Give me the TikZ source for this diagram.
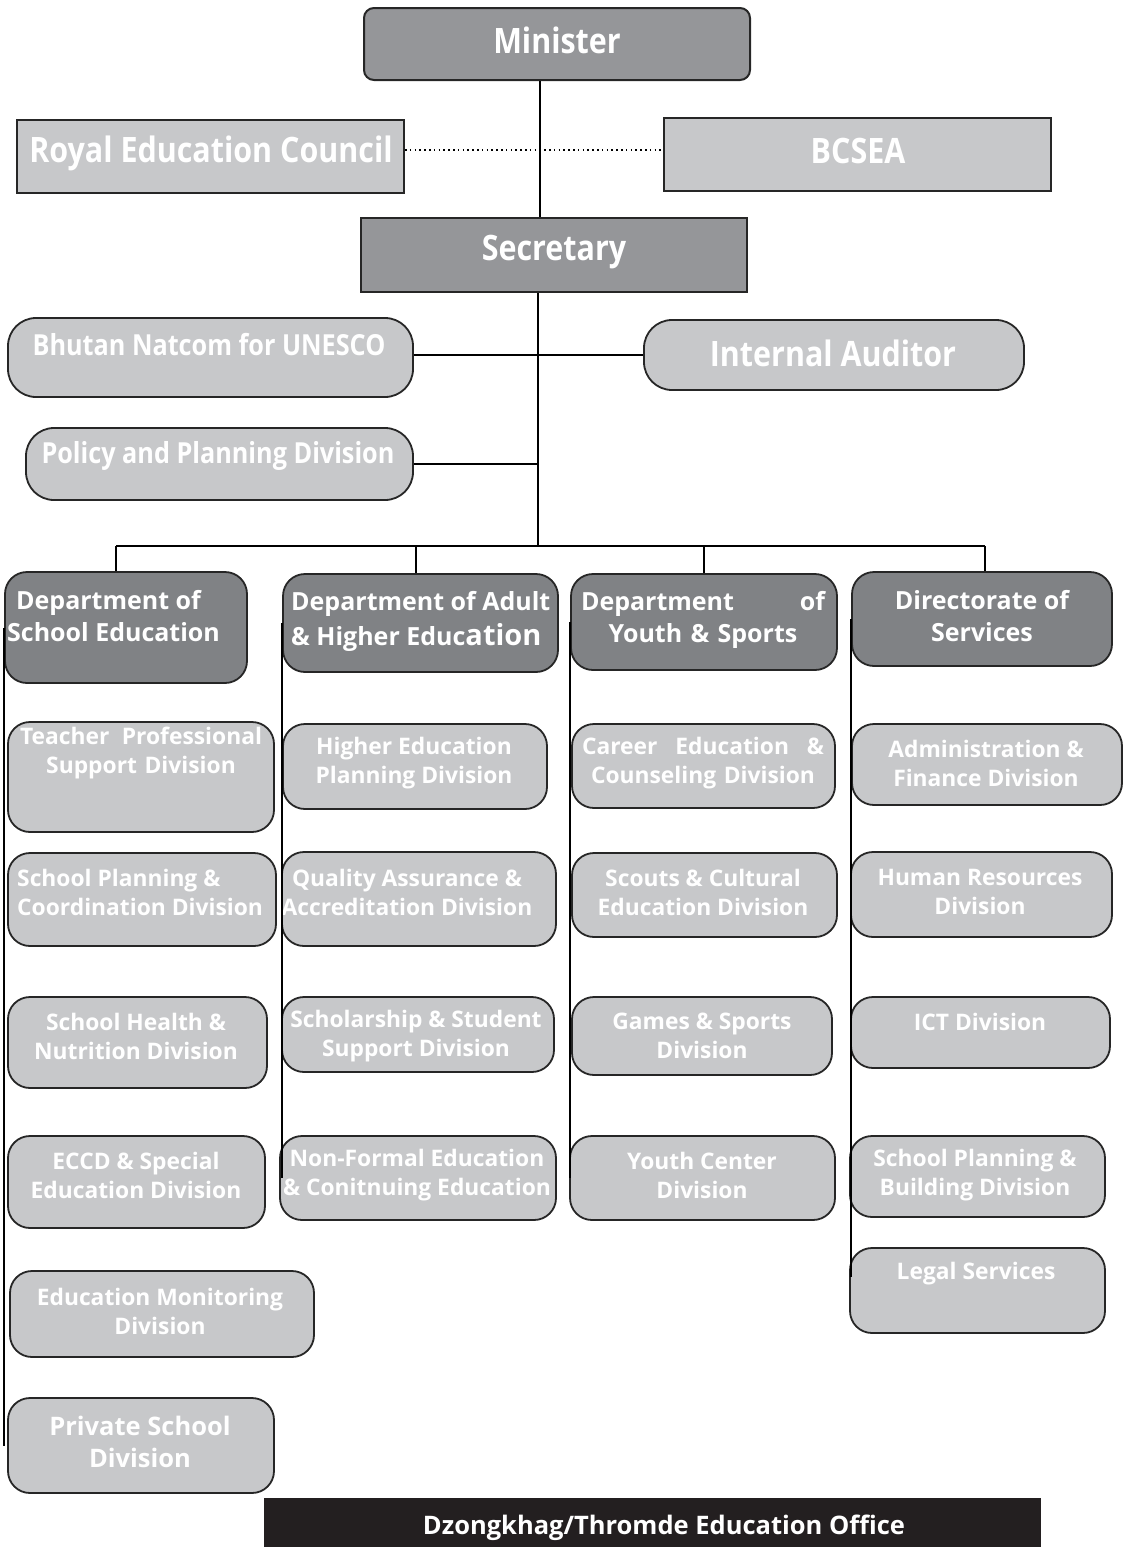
\documentclass[tikz,border=0pt]{standalone}
\usepackage{fontspec}
\setmainfont{Open Sans}
\newfontfamily\narrowfont{Open Sans}[FakeStretch=0.87]
\usetikzlibrary{positioning}
\definecolor{bossgray}{RGB}{149,150,153}
\definecolor{deptgray}{RGB}{128,130,133}
\definecolor{divgray}{RGB}{199,200,202}
\definecolor{officeblack}{RGB}{35,31,32}
\tikzset{
  topbox/.style={draw=black!85, line width=2, fill=bossgray, inner sep=0},
  sidebox/.style={draw=black!85, line width=2, fill=divgray, inner sep=0},
  deptbox/.style={draw=black!85, line width=1.8, fill=deptgray, rounded corners=22, inner sep=0},
  divbox/.style={draw=black!85, line width=1.8, fill=divgray, rounded corners=22, inner sep=0},
  toptext/.style={text=white, inner sep=0, font=\narrowfont\bfseries\fontsize{35}{37}\selectfont},
  midtext/.style={text=white, inner sep=0, font=\narrowfont\bfseries\fontsize{29}{31}\selectfont},
  depttext/.style={text=white, inner sep=0, font=\bfseries\fontsize{25}{32}\selectfont},
  divtext/.style={text=white, inner sep=0, align=center, font=\bfseries\fontsize{22.8}{29}\selectfont},
  wire/.style={draw=black, line width=1.2},
  colline/.style={draw=black, line width=1.8}
}
\begin{document}
\begin{tikzpicture}[x=1pt,y=-1pt]
\useasboundingbox (0,0) rectangle (1124,1547);
% top of the chart
\node[topbox, rounded corners=10, minimum width=386, minimum height=72] (minister) at (557,44) {};
\node[toptext] (ministerl) at (557,40) {Minister};
\node[sidebox, minimum width=387, minimum height=73] (rec) at (210.5,156.5) {};
\node[toptext] (recl) at (211,153) {Royal Education Council};
\node[sidebox, minimum width=387, minimum height=73] (bcsea) at (857.5,154.5) {};
\node[toptext] (bcseal) at (858,151) {BCSEA};
\node[topbox, minimum width=386, minimum height=74] (secretary) at (554,255) {};
\node[toptext] (secretaryl) at (554,252) {Secretary};
% units under the secretary
\node[divbox, rounded corners=28, minimum width=405, minimum height=79] (natcom) at (210.5,357.5) {};
\node[midtext] (natcoml) at (209,345) {Bhutan Natcom for UNESCO};
\node[divbox, rounded corners=28, minimum width=380, minimum height=70] (audit) at (834,355) {};
\node[toptext] (auditl) at (833,353) {Internal Auditor};
\node[divbox, rounded corners=28, minimum width=387, minimum height=72] (ppd) at (219.5,464) {};
\node[midtext] (ppdl) at (218,456) {Policy and Planning Division};
% departments
\node[deptbox, minimum width=242, minimum height=111] (dse) at (126,627.5) {};
\node[depttext, align=left, anchor=west] (dsel) at (7,616) {\hspace*{9pt}Department of\\School Education};
\node[deptbox, minimum width=275, minimum height=98] (dah) at (420.5,623) {};
\node[depttext, align=left, anchor=west] (dahl) at (291,621) {Department of Adult\\[3pt]\& Higher Educ{\fontsize{29}{32}\selectfont ation}};
\node[deptbox, minimum width=266, minimum height=96] (dys) at (704,622) {};
\node[depttext, align=center, text width=244] (dysl) at (703,620) {\makebox[244pt]{Department\hfill of}\\Youth \& Sports};
\node[deptbox, minimum width=260, minimum height=94] (dos) at (982,619) {};
\node[depttext, align=center] (dosl) at (982,616) {Directorate of\\Services};
% school education divisions
\node[divbox, minimum width=266, minimum height=110] (tpsd) at (141,777) {};
\node[divtext, text width=242] (tpsdl) at (141,753) {\makebox[242pt]{Teacher\hfill Professional}\\Support Division};
\node[divbox, minimum width=268, minimum height=93] (spcd) at (142,899.5) {};
\node[divtext, align=left, anchor=west] (spcdl) at (17,892) {School Planning \&\\Coordination Division};
\node[divbox, minimum width=259, minimum height=91] (shnd) at (137.5,1042.5) {};
\node[divtext] (shndl) at (136,1036) {School Health \&\\Nutrition Division};
\node[divbox, minimum width=257, minimum height=92] (eccd) at (136.5,1182) {};
\node[divtext] (eccdl) at (136,1175) {ECCD \& Special\\Education Division};
\node[divbox, minimum width=304, minimum height=86] (emd) at (162,1314) {};
\node[divtext] (emdl) at (160,1311) {Education Monitoring\\Division};
\node[divbox, minimum width=266, minimum height=95] (psd) at (141,1445.5) {};
\node[divtext, font=\bfseries\fontsize{25.5}{32}\selectfont] (psdl) at (140,1442) {Private School\\Division};
% adult and higher education divisions
\node[divbox, minimum width=264, minimum height=85] (hepd) at (415,766.5) {};
\node[divtext] (hepdl) at (414,763) {Higher Education\\Planning Division};
\node[divbox, minimum width=274, minimum height=94] (qaad) at (419,899) {};
\node[divtext] (qaadl) at (407,892) {Quality Assurance \&\\Accreditation Division};
\node[divbox, minimum width=272, minimum height=75] (sssd) at (418,1034.5) {};
\node[divtext] (sssdl) at (416,1036) {Scholarship \& Student\\Support Division};
\node[divbox, minimum width=276, minimum height=84] (nfce) at (418,1178) {};
\node[divtext] (nfcel) at (417,1175) {Non-Formal Education\\\& Conitnuing Education};
% youth and sports divisions
\node[divbox, minimum width=263, minimum height=84] (ced) at (703.5,766) {};
\node[divtext, text width=242] (cedl) at (703,763) {\makebox[242pt]{Career\hfill Education\hfill \&}\\Counseling Division};
\node[divbox, minimum width=265, minimum height=84] (scd) at (704.5,895) {};
\node[divtext] (scdl) at (703,892) {Scouts \& Cultural\\Education Division};
\node[divbox, minimum width=260, minimum height=78] (gsd) at (702,1036) {};
\node[divtext] (gsdl) at (702,1036) {Games \& Sports\\Division};
\node[divbox, minimum width=265, minimum height=84] (ycd) at (702.5,1178) {};
\node[divtext] (ycdl) at (702,1175) {Youth Center\\Division};
% services divisions
\node[divbox, minimum width=270, minimum height=81] (afd) at (987,764.5) {};
\node[divtext] (afdl) at (986,763) {Administration \&\\Finance Division};
\node[divbox, minimum width=261, minimum height=85] (hrd) at (981.5,894.5) {};
\node[divtext] (hrdl) at (980,892) {Human Resources\\Division};
\node[divbox, minimum width=259, minimum height=71] (ict) at (980.5,1032.5) {};
\node[divtext] (ictl) at (980,1022) {ICT Division};
\node[divbox, minimum width=255, minimum height=81] (spbd) at (977.5,1176.5) {};
\node[divtext] (spbdl) at (975,1175) {School Planning \&\\Building Division};
\node[divbox, minimum width=255, minimum height=85] (lgl) at (977.5,1290.5) {};
\node[divtext] (lgll) at (976,1274) {Legal Services};
% office strip
\node[fill=officeblack, minimum width=777, minimum height=52, inner sep=0] (office) at (652.5,1524) {};
\node[text=white, font=\bfseries\fontsize{25.5}{28}\selectfont] (officel) at (664,1528) {Dzongkhag/Thromde Education Office};
% connectors
\coordinate (hub) at (538,546);
\coordinate (b1) at (116,546);
\coordinate (b2) at (416,546);
\coordinate (b3) at (704,546);
\coordinate (b4) at (985,546);
\draw[wire, line width=2] (540,0 |- minister.south) -- (540,0 |- secretary.north);
\draw[line width=1.6, dash pattern=on 1.6pt off 3.2pt] (rec.east |- 0,150) -- (bcsea.west |- 0,150);
\draw[wire] (538,0 |- secretary.south) -- (hub);
\draw[wire, line width=1.6] (natcom.east |- audit.west) -- (audit.west);
\draw[wire, line width=1.6] (ppd.east) -- (ppd.east -| hub);
\draw[line width=2.4] (b1) -- (b4);
\draw[wire] (b1) -- (b1 |- dse.north);
\draw[wire] (b2) -- (b2 |- dah.north);
\draw[wire] (b3) -- (b3 |- dys.north);
\draw[wire] (b4) -- (b4 |- dos.north);
\draw[colline] (dse.west) -- (dse.west |- psd.west);
\draw[colline] (dah.west) -- (dah.west |- nfce.west);
\draw[colline] (dys.west) -- (dys.west |- ycd.west);
\draw[colline] (dos.west) -- ([yshift=14]dos.west |- lgl.west);
\end{tikzpicture}
\end{document}
